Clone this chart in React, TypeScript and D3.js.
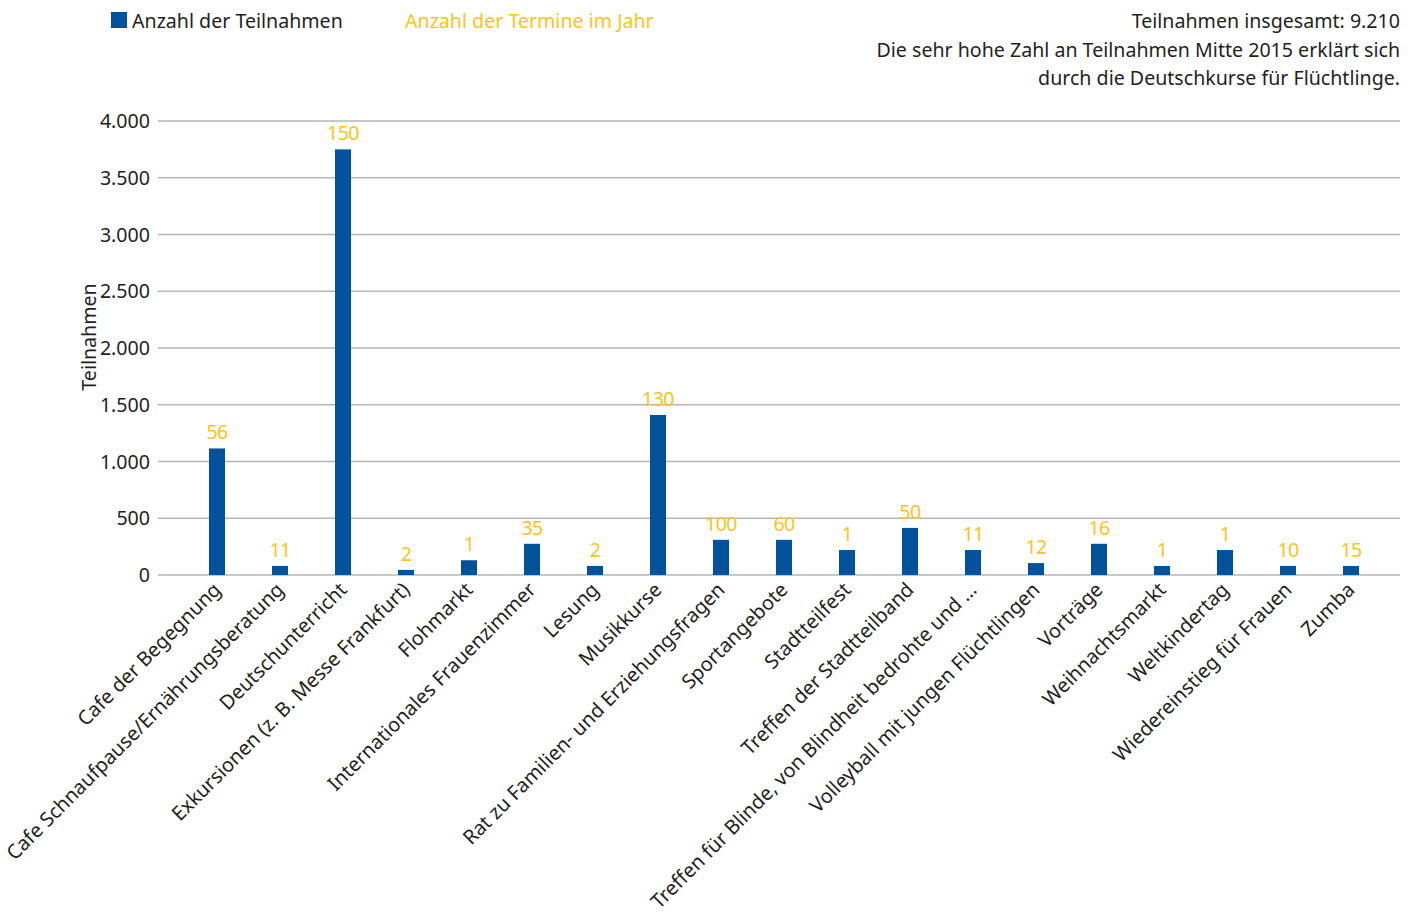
import React from "react";
import * as d3 from "d3";

const categories = [
  "Cafe der Begegnung",
  "Cafe Schnaufpause/Ernährungsberatung",
  "Deutschunterricht",
  "Exkursionen (z. B. Messe Frankfurt)",
  "Flohmarkt",
  "Internationales Frauenzimmer",
  "Lesung",
  "Musikkurse",
  "Rat zu Familien- und Erziehungsfragen",
  "Sportangebote",
  "Stadtteilfest",
  "Treffen der Stadtteilband",
  "Treffen für Blinde, von Blindheit bedrohte und …",
  "Volleyball mit jungen Flüchtlingen",
  "Vorträge",
  "Weihnachtsmarkt",
  "Weltkindertag",
  "Wiedereinstieg für Frauen",
  "Zumba",
];

const teilnahmen = [1115, 80, 3750, 45, 130, 275, 80, 1410, 310, 310, 220, 415, 220, 105, 275, 80, 220, 80, 80];
const termine = [56, 11, 150, 2, 1, 35, 2, 130, 100, 60, 1, 50, 11, 12, 16, 1, 1, 10, 15];
const yTicks = [0, 500, 1000, 1500, 2000, 2500, 3000, 3500, 4000];
const noteLines = [
  "Teilnahmen insgesamt: 9.210",
  "Die sehr hohe Zahl an Teilnahmen Mitte 2015 erklärt sich",
  "durch die Deutschkurse für Flüchtlinge.",
];

const W = 1419;
const H = 915;
const FONT = "'Noto Sans', 'Open Sans', sans-serif";
const BLUE = "#00529b";
const YELLOW = "#fcc31a";
const TEXT = "#231f20";
const GRID = "#b5b5b7";

const fmt = (v: number) => (v === 0 ? "0" : d3.format(",")(v).replace(/,/g, "."));

export default function App() {
  const x = d3
    .scaleBand<string>()
    .domain(categories)
    .range([185.5, 1382.5])
    .paddingInner(0.746)
    .paddingOuter(0.373);
  const y = d3.scaleLinear().domain([0, 4000]).range([575, 121]);
  const fs = 19.6;
  const catFs = 19.9;

  return (
    <svg
      width={W}
      height={H}
      style={{ position: "absolute", left: 0, top: 0, background: "#fff" }}
      fontFamily={FONT}
    >
      {/* legend */}
      <rect x={111} y={12} width={16} height={16} fill={BLUE} />
      <text x={132} y={28} fontSize={fs} fill={TEXT}>
        Anzahl der Teilnahmen
      </text>
      <text x={405} y={28} fontSize={fs} fill={YELLOW}>
        Anzahl der Termine im Jahr
      </text>

      {/* note */}
      {noteLines.map((t, i) => (
        <text key={i} x={1400} y={28 + i * 28.5} textAnchor="end" fontSize={fs} fill={TEXT}>
          {t}
        </text>
      ))}

      {/* grid + y ticks */}
      {yTicks.map((t) => (
        <g key={t}>
          <line x1={158} x2={1400} y1={y(t)} y2={y(t)} stroke={GRID} strokeWidth={1.6} />
          <text x={150} y={y(t) + 7} textAnchor="end" fontSize={fs} fill={TEXT}>
            {fmt(t)}
          </text>
        </g>
      ))}

      <text
        transform={`translate(96,337) rotate(-90)`}
        textAnchor="middle"
        fontSize={fs}
        fill={TEXT}
      >
        Teilnahmen
      </text>

      {/* bars */}
      {categories.map((c, i) => (
        <rect
          key={c}
          x={x(c)}
          y={y(teilnahmen[i])}
          width={x.bandwidth()}
          height={y(0) - y(teilnahmen[i])}
          fill={BLUE}
        />
      ))}

      {/* value labels */}
      {categories.map((c, i) => (
        <text
          key={c}
          x={(x(c) as number) + x.bandwidth() / 2}
          y={y(teilnahmen[i]) - 9}
          textAnchor="middle"
          fontSize={fs}
          fill={YELLOW}
          letterSpacing={-0.6}
        >
          {termine[i]}
        </text>
      ))}

      {/* category labels */}
      {categories.map((c) => {
        const cx = (x(c) as number) + x.bandwidth() / 2 + 5;
        return (
          <text
            key={c}
            transform={`translate(${cx},${591}) rotate(-45)`}
            textAnchor="end"
            fontSize={catFs}
            fill={TEXT}
          >
            {c}
          </text>
        );
      })}
    </svg>
  );
}
